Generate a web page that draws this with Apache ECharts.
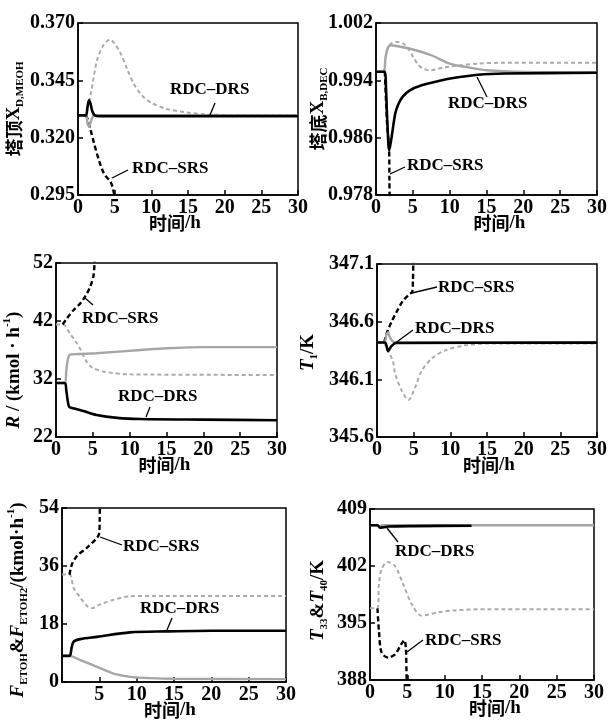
<!DOCTYPE html>
<html>
<head>
<meta charset="utf-8">
<script src="https://cdn.jsdelivr.net/npm/echarts@6/dist/echarts.min.js"></script>
<style>
html,body{margin:0;padding:0;background:#fff}
#main{width:610px;height:727px}
</style>
</head>
<body>
<div id="main"></div>
<script>
// time axis: min, max, interval (same for every panel)
var timeAxis = [0, 30, 5];

// y axes: min, max, interval
var p1Axis = [0.295, 0.370, 0.025];
var p2Axis = [0.978, 1.002, 0.008];
var p3Axis = [22, 52, 10];
var p4Axis = [345.6, 347.1, 0.5];
var p5Axis = [0, 54, 18];
var p6Axis = [388, 409, 7];

// panel 1: top X D,MEOH   [t(h), value]
var p1BlackSolid = [[0,0.3297],[1.05,0.3297],[1.3,0.3335],[1.5,0.3363],[1.7,0.3350],[1.95,0.3315],[2.3,0.3297],[3,0.3294],[30,0.3294]];
var p1GraySolid = [[0,0.3297],[1.05,0.3297],[1.3,0.3262],[1.5,0.3248],[1.75,0.3270],[2.1,0.3295],[2.5,0.3297],[30,0.3297]];
var p1BlackDash = [[1.0,0.3297],[1.2,0.3290],[1.73,0.3232],[2.2,0.3174],[2.87,0.3100],[3.55,0.3043],[4.46,0.3006],[4.82,0.2970],[5.0,0.2935]];
var p1GrayDash = [[1.0,0.3297],[1.14,0.3303],[1.8,0.3400],[2.6,0.3538],[3.5,0.3605],[4.36,0.3628],[5.0,0.3610],[5.8,0.3568],[6.7,0.3500],[7.6,0.3435],[8.7,0.3385],[9.9,0.3354],[12.1,0.3325],[14.9,0.3310],[18,0.3300],[30,0.3298]];

// panel 2: bottom X B,DEC
var p2BlackSolid = [[0,0.9952],[1.2,0.9952],[1.35,0.9931],[1.53,0.9884],[1.8,0.9842],[2.12,0.9861],[2.6,0.9893],[3.0,0.9906],[3.6,0.9917],[4.6,0.9926],[6.2,0.9933],[8.5,0.9939],[10.7,0.99435],[13.9,0.99478],[17.5,0.99495],[30,0.99505]];
var p2GraySolid = [[0,0.9952],[1.0,0.9952],[1.3,0.9972],[1.6,0.9985],[2.0,0.9989],[3.0,0.99875],[5.0,0.9983],[7.5,0.9975],[10,0.99634],[12.5,0.9958],[15,0.9954],[20,0.99516],[30,0.9951]];
var p2BlackDash = [[1.2,0.9952],[1.5,0.9880],[1.78,0.9842],[1.82,0.9800],[1.86,0.9765]];
var p2GrayDash = [[0,0.9952],[1.0,0.9952],[1.3,0.9972],[1.6,0.9985],[2.0,0.9991],[2.8,0.99936],[3.7,0.99913],[4.4,0.9984],[5.05,0.99726],[5.7,0.9962],[6.4,0.99564],[7.3,0.9954],[8.2,0.99555],[9.1,0.99577],[11.4,0.9961],[14,0.99635],[17,0.99645],[30,0.99647]];

// panel 3: reflux R
var p3BlackSolid = [[0,31.3],[1.2,31.3],[1.4,30.0],[1.6,28.2],[1.8,27.2],[2.5,26.9],[3.7,26.5],[5.5,25.8],[8.3,25.3],[11.5,25.1],[20,25.0],[30,24.9]];
var p3GraySolid = [[0,31.3],[1.2,31.3],[1.4,33.5],[1.6,35.3],[1.9,36.2],[3,36.3],[5.5,36.45],[11.5,37.0],[15,37.3],[20,37.5],[30,37.5]];
var p3BlackDash = [[0.9,41.4],[1.45,42.4],[2.36,43.85],[3.27,45.0],[3.95,46.2],[4.64,47.9],[5.1,49.9],[5.25,52.5]];
var p3GrayDash = [[0,41.4],[1.0,41.4],[1.9,39.8],[2.6,38.6],[3.27,37.2],[4.2,34.9],[4.9,34.0],[6.4,33.3],[10.1,32.8],[30,32.7]];

// panel 4: T1
var p4BlackSolid = [[0,346.42],[1.1,346.42],[1.5,346.345],[2.0,346.39],[2.6,346.415],[30,346.418]];
var p4GraySolid = [[0,346.42],[1.0,346.42],[1.3,346.49],[1.5,346.506],[1.8,346.46],[2.3,346.425],[30,346.42]];
var p4BlackDash = [[1.0,346.42],[1.27,346.49],[1.95,346.594],[2.63,346.68],[3.53,346.78],[4.44,346.84],[4.8,346.857],[4.9,346.96],[4.97,347.15]];
var p4GrayDash = [[1.0,346.42],[1.27,346.375],[2.17,346.258],[2.48,346.147],[3.39,346.0],[4.29,345.92],[5.2,346.03],[6.1,346.176],[7.46,346.28],[9.27,346.35],[12,346.395],[15.1,346.41],[30,346.41]];

// panel 5: F ETOH & F ETOH2
var p5BlackSolid = [[0,8.1],[1.0,8.1],[1.3,10.8],[1.55,12.5],[2.45,13.3],[4.7,14.0],[9.1,15.4],[14,15.7],[20,15.9],[30,15.9]];
var p5GraySolid = [[0,8.1],[1.0,8.1],[2.45,6.8],[4.7,4.7],[6.9,2.6],[9.1,1.6],[11.8,1.2],[15,1.0],[30,0.9]];
var p5BlackDash = [[1.0,33.3],[1.33,36.5],[2.0,39.1],[3.35,41.7],[4.7,44.8],[5.0,46.4],[5.05,51],[5.08,55]];
var p5GrayDash = [[0,33.4],[1.0,33.4],[1.55,29.3],[2.45,26.2],[3.35,23.6],[4.0,22.9],[5.1,24.1],[6.9,25.5],[9.1,26.6],[12,26.7],[30,26.7]];

// panel 6: T33 & T40
var p6BlackSolid = [[0,407.0],[1.0,407.0],[1.34,406.7],[1.8,406.75],[2.45,406.85],[6,406.9],[13.6,406.95]];
var p6GraySolid = [[0,407.0],[1.0,407.0],[1.3,406.9],[1.6,407.0],[30,407.0]];
var p6BlackDash = [[1.0,396.8],[1.2,394.0],[1.55,391.35],[2.45,390.75],[3.35,391.15],[4.2,392.4],[4.6,392.9],[4.8,392.0],[4.9,388.5],[4.95,387]];
var p6GrayDash = [[0,396.8],[1.0,396.8],[1.2,399.75],[1.55,401.6],[2.35,402.5],[3.35,402.0],[4.45,399.75],[5.6,397.3],[6.9,395.9],[9.1,396.3],[11.4,396.55],[15.8,396.7],[30,396.7]];

var serif = 'Liberation Serif', cjk = 'Noto Sans CJK SC';
var rich = {
  c: {fontFamily: cjk, fontWeight: 'bold', fontSize: 18, lineHeight: 24, verticalAlign: 'middle', color: '#000'},
  v: {fontFamily: serif, fontWeight: 'bold', fontSize: 19, lineHeight: 24, verticalAlign: 'middle', color: '#000'},
  i: {fontFamily: serif, fontWeight: 'bold', fontStyle: 'italic', fontSize: 19, lineHeight: 24, verticalAlign: 'middle', color: '#000'},
  s: {fontFamily: serif, fontWeight: 'bold', fontSize: 11, lineHeight: 14, verticalAlign: 'bottom', color: '#000'},
  p: {fontFamily: serif, fontWeight: 'bold', fontSize: 11, lineHeight: 12, verticalAlign: 'top', color: '#000'}
};

var panels = [
  {box: [78, 23, 220, 172], y: p1Axis, dec: 3, name: '{c|塔顶}{v|X}{s|D,MEOH}', gap: 52, yShift: 0, xShift: -13,
   lines: [p1GrayDash, p1BlackDash, p1GraySolid, p1BlackSolid]},
  {box: [376, 23, 221, 172], y: p2Axis, dec: 3, name: '{c|塔底}{v|X}{s|B,DEC}', gap: 46, yShift: 0, xShift: 13,
   lines: [p2GrayDash, p2BlackDash, p2GraySolid, p2BlackSolid]},
  {box: [56, 263, 221, 174], y: p3Axis, dec: 0, name: '{i|R}{v| / (kmol · h}{p|-1}{v|)}', gap: 30, yShift: 20, xShift: -2,
   lines: [p3GrayDash, p3BlackDash, p3GraySolid, p3BlackSolid]},
  {box: [377, 264, 221, 173], y: p4Axis, dec: 1, name: '{i|T}{s|1}{v|/K}', gap: 57, yShift: 2, xShift: 2,
   lines: [p4GrayDash, p4BlackDash, p4GraySolid, p4BlackSolid]},
  {box: [62, 508, 224, 174], y: p5Axis, dec: 0, name: '{i|F}{s|ETOH}{v|&}{i|F}{s|ETOH2}{v|/(kmol·h}{p|-1}{v|)}', gap: 32, yShift: 5, xShift: -4, hideZero: true,
   lines: [p5GrayDash, p5BlackDash, p5GraySolid, p5BlackSolid]},
  {box: [370, 509, 224, 171], y: p6Axis, dec: 0, name: '{i|T}{s|33}{v|&}{i|T}{s|40}{v|/K}', gap: 40, yShift: 6, xShift: 13,
   lines: [p6GrayDash, p6BlackDash, p6GraySolid, p6BlackSolid]}
];

var lineStyles = [
  {color: '#ababab', width: 2, type: [4, 3]},
  {color: '#000', width: 2.4, type: [5, 3]},
  {color: '#a6a6a6', width: 2.4, type: 'solid'},
  {color: '#000', width: 2.6, type: 'solid'}
];

// annotation labels: text, left x, centre y, leader line
var notes = [
  ['RDC–DRS', 170, 90, [215, 103, 210, 115]],
  ['RDC–SRS', 132, 169, [128, 170, 112, 178]],
  ['RDC–DRS', 448, 104, [487, 97, 477, 77]],
  ['RDC–SRS', 407, 166, [405, 167, 390, 174]],
  ['RDC–SRS', 82, 319, [93, 305, 85, 298]],
  ['RDC–DRS', 118, 397, [150, 407, 146, 417]],
  ['RDC–SRS', 438, 288, [437, 287, 412, 293]],
  ['RDC–DRS', 415, 329, [413, 330, 390, 347]],
  ['RDC–SRS', 123, 547, [122, 545, 100, 537]],
  ['RDC–DRS', 140, 609, [172, 618, 167, 630]],
  ['RDC–DRS', 395, 552, [398, 542, 387, 528]],
  ['RDC–SRS', 425, 641, [423, 640, 407, 652]]
];

var grids = [], xAxes = [], yAxes = [], series = [], graphic = [];
var tickFont = {color: '#000', fontFamily: serif, fontWeight: 'bold', fontSize: 20};

panels.forEach(function (p, k) {
  grids.push({left: p.box[0], top: p.box[1], width: p.box[2], height: p.box[3],
    show: true, borderColor: '#000', borderWidth: 1.5, backgroundColor: 'transparent'});
  var xPad = p.xShift < 0 ? [0, -2 * p.xShift, 0, 0] : [0, 0, 0, 2 * p.xShift];
  xAxes.push({
    type: 'value', gridIndex: k, min: timeAxis[0], max: timeAxis[1], interval: timeAxis[2],
    name: '{c|时间}{v|/h}', nameLocation: 'middle', nameGap: 16, nameMoveOverlap: false,
    nameTextStyle: {rich: rich, padding: xPad},
    axisLine: {show: true, lineStyle: {color: '#000', width: 1.5}},
    axisTick: {inside: true, length: 5, lineStyle: {color: '#000', width: 1.5}},
    axisLabel: Object.assign({margin: 3, formatter: function (v) {
      return (p.hideZero && v === 0) ? '' : String(v);
    }}, tickFont),
    splitLine: {show: false}
  });
  yAxes.push({
    type: 'value', gridIndex: k, min: p.y[0], max: p.y[1], interval: p.y[2],
    name: p.name, nameLocation: 'middle', nameGap: p.gap, nameMoveOverlap: false,
    nameTextStyle: {rich: rich, padding: [0, 2 * p.yShift, 0, 0]},
    axisLine: {show: true, lineStyle: {color: '#000', width: 1.5}},
    axisTick: {inside: true, length: 5, lineStyle: {color: '#000', width: 1.5}},
    axisLabel: Object.assign({margin: 3, formatter: function (v) { return v.toFixed(p.dec); }}, tickFont),
    splitLine: {show: false}
  });
  p.lines.forEach(function (d, j) {
    series.push({
      type: 'line', xAxisIndex: k, yAxisIndex: k, data: d,
      symbol: 'none', smooth: 0.3, silent: true, z: 2 + j,
      lineStyle: lineStyles[j]
    });
  });
});

notes.forEach(function (n) {
  graphic.push({type: 'text', x: n[1], y: n[2], z: 20,
    style: {text: n[0], fill: '#000', font: 'bold 17px "Liberation Serif"', verticalAlign: 'middle', textVerticalAlign: 'middle'}});
  graphic.push({type: 'line', z: 20,
    shape: {x1: n[3][0], y1: n[3][1], x2: n[3][2], y2: n[3][3]},
    style: {stroke: '#000', lineWidth: 1.3}});
});

var chart = echarts.init(document.getElementById('main'));
chart.setOption({
  animation: false,
  backgroundColor: '#fff',
  grid: grids,
  xAxis: xAxes,
  yAxis: yAxes,
  series: series,
  graphic: graphic
});
</script>
</body>
</html>
